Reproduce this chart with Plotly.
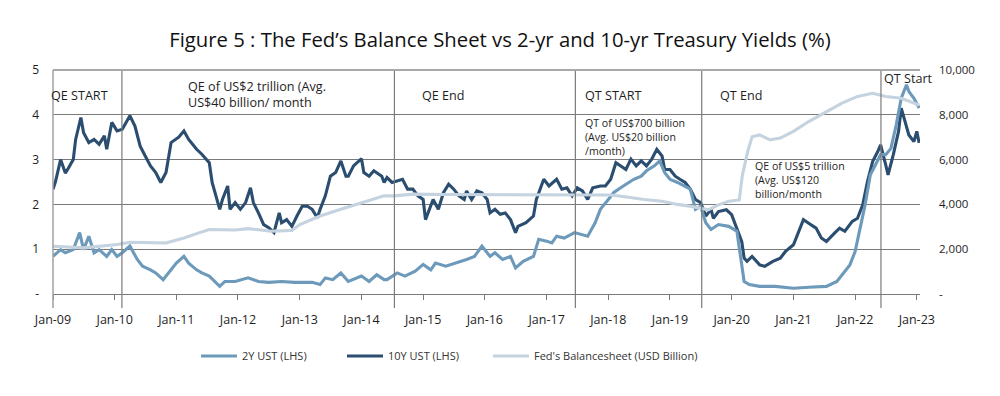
import plotly.graph_objects as go

# ---------------- data ----------------
dates_10y = [
    "2009-01-01", "2009-01-15", "2009-02-15", "2009-03-15", "2009-04-01", "2009-05-01", "2009-05-15",
    "2009-06-15", "2009-07-01", "2009-08-01", "2009-09-01", "2009-10-01", "2009-11-01", "2009-11-15",
    "2009-12-15", "2010-01-15", "2010-02-15", "2010-04-01", "2010-05-01", "2010-06-01", "2010-07-01",
    "2010-08-01", "2010-09-01", "2010-10-01", "2010-11-01", "2010-12-01", "2011-01-15", "2011-02-15",
    "2011-03-15", "2011-05-01", "2011-06-01", "2011-07-15", "2011-08-01", "2011-09-01", "2011-09-15",
    "2011-10-01", "2011-11-01", "2011-11-15", "2011-12-15", "2012-01-15", "2012-02-15", "2012-03-15",
    "2012-04-01", "2012-05-01", "2012-06-01", "2012-07-01", "2012-08-01", "2012-09-01", "2012-09-15",
    "2012-10-15", "2012-11-15", "2012-12-15", "2013-01-15", "2013-02-15", "2013-03-15", "2013-04-15",
    "2013-05-01", "2013-06-01", "2013-07-01", "2013-08-01", "2013-09-01", "2013-10-01", "2013-10-15",
    "2013-11-15", "2014-01-01", "2014-01-15", "2014-02-15", "2014-03-15", "2014-05-01", "2014-05-15",
    "2014-06-01", "2014-07-01", "2014-08-01", "2014-09-01", "2014-10-01", "2014-11-01", "2014-12-01",
    "2015-01-01", "2015-01-15", "2015-02-15", "2015-03-01", "2015-04-01", "2015-05-01", "2015-06-01",
    "2015-07-01", "2015-08-01", "2015-09-01", "2015-09-15", "2015-10-15", "2015-11-15", "2015-12-15",
    "2016-01-15", "2016-02-01", "2016-03-01", "2016-04-01", "2016-05-01", "2016-06-01", "2016-07-01",
    "2016-07-15", "2016-09-01", "2016-10-15", "2016-11-01", "2016-12-15", "2017-01-15", "2017-03-01",
    "2017-04-01", "2017-05-01", "2017-06-01", "2017-07-01", "2017-08-01", "2017-09-01", "2017-10-01",
    "2017-11-15", "2017-12-15", "2018-01-15", "2018-02-15", "2018-03-15", "2018-04-15", "2018-05-15",
    "2018-06-15", "2018-07-15", "2018-08-15", "2018-09-15", "2018-10-15", "2018-11-15", "2018-12-01",
    "2019-01-01", "2019-02-01", "2019-03-01", "2019-04-01", "2019-05-01", "2019-06-01", "2019-07-01",
    "2019-08-01", "2019-09-01", "2019-09-15", "2019-10-15", "2019-12-01", "2020-01-01", "2020-02-01",
    "2020-03-01", "2020-03-15", "2020-04-01", "2020-05-01", "2020-06-15", "2020-07-15", "2020-09-01",
    "2020-10-15", "2020-11-15", "2021-01-01", "2021-02-01", "2021-03-01", "2021-04-01", "2021-05-15",
    "2021-06-15", "2021-07-15", "2021-09-01", "2021-10-01", "2021-11-01", "2021-12-15", "2022-01-15",
    "2022-02-15", "2022-03-15", "2022-04-15", "2022-05-15", "2022-06-01", "2022-07-01", "2022-07-15",
    "2022-08-15", "2022-09-15", "2022-10-01", "2022-11-01", "2022-11-15", "2022-12-15", "2023-01-01",
    "2023-01-15",
]
ust10y = [
    2.34, 2.50, 3.00, 2.70, 2.80, 3.00, 3.45,
    3.94, 3.60, 3.38, 3.45, 3.34, 3.53, 3.23,
    3.83, 3.64, 3.68, 3.98, 3.75, 3.30, 3.08,
    2.86, 2.71, 2.49, 2.71, 3.38, 3.50, 3.64,
    3.45, 3.23, 3.12, 2.93, 2.49, 2.11, 1.89,
    2.11, 2.41, 1.89, 2.04, 1.89, 2.04, 2.37,
    2.04, 1.81, 1.55, 1.48, 1.37, 1.81, 1.59,
    1.66, 1.51, 1.74, 1.96, 1.96, 1.89, 1.70,
    1.89, 2.19, 2.63, 2.71, 2.97, 2.63, 2.63,
    2.86, 3.02, 2.71, 2.63, 2.75, 2.63, 2.49,
    2.60, 2.49, 2.52, 2.56, 2.34, 2.34, 2.19,
    2.11, 1.66, 1.96, 2.11, 1.89, 2.26, 2.45,
    2.34, 2.19, 2.11, 2.30, 2.11, 2.30, 2.26,
    2.11, 1.81, 1.89, 1.78, 1.81, 1.66, 1.37,
    1.51, 1.59, 1.74, 2.11, 2.56, 2.41, 2.56,
    2.34, 2.37, 2.19, 2.37, 2.30, 2.11, 2.37,
    2.41, 2.41, 2.56, 2.93, 2.86, 2.78, 3.01,
    2.86, 2.97, 2.86, 3.01, 3.23, 3.08, 2.78,
    2.78, 2.63, 2.56, 2.49, 2.34, 2.11, 2.04,
    1.74, 1.89, 1.69, 1.84, 1.88, 1.77, 1.47,
    1.17, 0.80, 0.73, 0.84, 0.65, 0.62, 0.73,
    0.80, 0.95, 1.10, 1.40, 1.66, 1.58, 1.47,
    1.25, 1.17, 1.36, 1.47, 1.40, 1.62, 1.69,
    1.99, 2.51, 2.96, 3.18, 3.33, 2.88, 2.66,
    3.11, 3.63, 4.15, 3.77, 3.55, 3.40, 3.63,
    3.37,
]

dates_2y = [
    "2009-01-01", "2009-02-15", "2009-03-15", "2009-05-01", "2009-06-08", "2009-07-01", "2009-08-01",
    "2009-09-01", "2009-10-01", "2009-11-15", "2009-12-15", "2010-01-15", "2010-02-15", "2010-04-01",
    "2010-05-15", "2010-06-15", "2010-08-01", "2010-09-01", "2010-10-15", "2010-11-15", "2011-01-01",
    "2011-02-15", "2011-03-15", "2011-05-01", "2011-06-01", "2011-07-15", "2011-09-01", "2011-09-15",
    "2011-10-15", "2011-12-15", "2012-03-01", "2012-05-01", "2012-07-01", "2012-09-15", "2012-12-01",
    "2013-03-15", "2013-05-01", "2013-06-01", "2013-07-15", "2013-09-01", "2013-10-15", "2014-01-01",
    "2014-02-15", "2014-04-01", "2014-05-15", "2014-06-01", "2014-08-01", "2014-09-15", "2014-11-15",
    "2015-01-01", "2015-02-15", "2015-03-15", "2015-05-15", "2015-07-15", "2015-09-15", "2015-11-01",
    "2015-12-15", "2016-02-01", "2016-03-01", "2016-04-15", "2016-06-01", "2016-07-01", "2016-08-15",
    "2016-10-15", "2016-11-15", "2017-01-01", "2017-02-01", "2017-03-01", "2017-04-15", "2017-06-15",
    "2017-09-01", "2017-10-15", "2017-11-15", "2018-01-01", "2018-02-01", "2018-03-15", "2018-05-01",
    "2018-06-01", "2018-07-15", "2018-08-15", "2018-10-01", "2018-11-01", "2018-12-01", "2019-01-01",
    "2019-02-15", "2019-04-01", "2019-05-01", "2019-06-01", "2019-07-01", "2019-08-01", "2019-09-01",
    "2019-10-15", "2019-12-15", "2020-02-01", "2020-03-01", "2020-03-15", "2020-04-15", "2020-06-15",
    "2020-09-15", "2021-01-01", "2021-04-01", "2021-07-15", "2021-09-15", "2021-10-15", "2021-12-01",
    "2022-01-01", "2022-02-01", "2022-03-01", "2022-04-01", "2022-05-01", "2022-06-01", "2022-07-01",
    "2022-08-01", "2022-09-01", "2022-10-01", "2022-11-01", "2022-11-15", "2022-12-15", "2023-01-15",
]
ust2y = [
    0.84, 0.99, 0.92, 0.99, 1.37, 0.99, 1.29,
    0.92, 0.99, 0.84, 0.99, 0.84, 0.92, 1.07,
    0.77, 0.62, 0.54, 0.47, 0.32, 0.47, 0.69,
    0.84, 0.69, 0.54, 0.47, 0.40, 0.21, 0.17,
    0.28, 0.28, 0.36, 0.28, 0.26, 0.28, 0.26,
    0.26, 0.21, 0.36, 0.32, 0.47, 0.28, 0.40,
    0.28, 0.43, 0.32, 0.32, 0.47, 0.40, 0.51,
    0.66, 0.54, 0.69, 0.62, 0.69, 0.77, 0.84,
    1.07, 0.84, 0.92, 0.77, 0.84, 0.58, 0.73,
    0.84, 1.22, 1.18, 1.14, 1.29, 1.25, 1.37,
    1.29, 1.59, 1.89, 2.11, 2.26, 2.37, 2.49,
    2.56, 2.63, 2.75, 2.86, 2.97, 2.71, 2.56,
    2.49, 2.41, 2.34, 1.89, 1.96, 1.59, 1.44,
    1.55, 1.51, 1.40, 0.65, 0.28, 0.21, 0.17,
    0.17, 0.13, 0.15, 0.17, 0.28, 0.43, 0.65,
    0.95, 1.47, 1.99, 2.66, 2.88, 3.11, 3.11,
    3.25, 3.77, 4.37, 4.67, 4.52, 4.37, 4.15,
]

dates_fed = [
    "2009-01-01", "2009-07-01", "2010-01-15", "2010-04-01", "2010-11-01", "2011-02-15", "2011-05-15",
    "2011-07-15", "2011-12-15", "2012-03-01", "2012-07-15", "2012-11-15", "2013-01-01", "2013-05-01",
    "2013-09-01", "2014-01-01", "2014-05-15", "2014-07-15", "2014-11-01", "2015-05-15", "2015-12-01",
    "2016-06-15", "2017-01-15", "2017-07-01", "2018-01-15", "2018-05-01", "2018-08-01", "2018-11-15",
    "2019-02-15", "2019-05-15", "2019-07-15", "2019-08-15", "2019-10-15", "2019-12-15", "2020-02-15",
    "2020-03-05", "2020-04-05", "2020-05-01", "2020-06-15", "2020-08-15", "2020-10-15", "2021-01-01",
    "2021-04-01", "2021-07-15", "2021-10-15", "2022-01-15", "2022-04-15", "2022-07-01", "2022-10-01",
    "2023-01-15",
]
fed_bs = [
    2130, 2060, 2210, 2310, 2280, 2500, 2730,
    2880, 2860, 2920, 2800, 2840, 3100, 3480,
    3780, 4080, 4380, 4380, 4460, 4440, 4440,
    4440, 4440, 4420, 4420, 4320, 4220, 4140,
    4000, 3900, 3800, 3760, 3980, 4140, 4200,
    5320, 6360, 7020, 7100, 6880, 6960, 7260,
    7700, 8140, 8520, 8820, 8960, 8820, 8740,
    8440,
]

left_ticks = [0, 1, 2, 3, 4, 5]
left_labels = ["-", "1", "2", "3", "4", "5"]
right_ticks = [0, 2000, 4000, 6000, 8000, 10000]
right_labels = ["-", "2,000", "4,000", "6,000", "8,000", "10,000"]

phase_dates = ["2010-02-13", "2014-07-15", "2017-06-20", "2019-07-08", "2022-06-03"]

# ---------------- styling ----------------
C2Y = "#6d9aba"
C10Y = "#2b4e70"
CFED = "#c4d3df"
GRID = "#7a7a7a"
FONT = "Open Sans"
TXT = "#1e1e1e"

# the page body has an 8px margin; the figure is sized to fit inside the window
W, H = 984, 380
PL, PT = 45, 62          # plot area left / top inside the figure
PR_EDGE, PB_EDGE = 912, 286
PLOT_H = PB_EDGE - PT

fig = go.Figure()
fig.add_trace(go.Scatter(x=dates_10y, y=ust10y, name="10Y UST (LHS)", mode="lines",
                         line=dict(color=C10Y, width=3.1), legendrank=2, legendwidth=95))
fig.add_trace(go.Scatter(x=dates_2y, y=ust2y, name="2Y UST (LHS)", mode="lines",
                         line=dict(color=C2Y, width=3.1), legendrank=1, legendwidth=95))
fig.add_trace(go.Scatter(x=dates_fed, y=fed_bs, name="Fed's Balancesheet (USD Billion)", mode="lines",
                         line=dict(color=CFED, width=3.1), yaxis="y2", legendrank=3, legendwidth=170))

below = -14 / PLOT_H
shapes = []
for d in phase_dates:
    shapes.append(dict(type="line", xref="x", yref="paper", x0=d, x1=d, y0=below, y1=1,
                       line=dict(color=GRID, width=1.2)))
shapes.append(dict(type="line", xref="paper", yref="paper", x0=0, x1=0, y0=below, y1=1,
                   line=dict(color="#a0a0a0", width=1.5)))
shapes.append(dict(type="line", xref="paper", yref="paper", x0=0, x1=1, y0=1, y1=1,
                   line=dict(color="#a8a8a8", width=2)))

ann_big = dict(size=12.6, color=TXT, family=FONT)
ann_small = dict(size=10.6, color=TXT, family=FONT)
annotations = [
    dict(x="2011-02-27", y=4.45, text="QE of US$2 trillion (Avg.<br>US$40 billion/ month", font=ann_big),
    dict(x="2014-12-13", y=4.44, text="QE End", font=ann_big),
    dict(x="2017-08-04", y=4.44, text="QT START", font=ann_big),
    dict(x="2019-10-11", y=4.44, text="QT End", font=ann_big),
    dict(x="2022-06-09", y=4.8, text="QT Start", font=ann_big),
    dict(x="2017-08-04", y=3.5, text="QT of US$700 billion<br>(Avg. US$20 billion<br>/month)", font=ann_small),
    dict(x="2020-05-06", y=2.54, text="QE of US$5 trillion<br>(Avg. US$120<br>billion/month", font=ann_small),
]
for a in annotations:
    a.update(xref="x", yref="y", xanchor="left", yanchor="middle", showarrow=False, align="left")
# first label sits just left of the first date, so it is placed on the paper
annotations.append(dict(x=-4 / (PR_EDGE - PL), xref="paper", y=4.44, yref="y", text="QE START",
                        font=ann_big, xanchor="left", yanchor="middle", showarrow=False))

fig.update_layout(
    width=W, height=H,
    margin=dict(l=PL, r=W - PR_EDGE, t=PT, b=H - PB_EDGE, autoexpand=False),
    paper_bgcolor="white", plot_bgcolor="white",
    font=dict(family=FONT, color=TXT, size=12),
    title=dict(text="Figure 5 : The Fed’s Balance Sheet vs 2-yr and 10-yr Treasury Yields (%)",
               x=(500 - 8) / W, xanchor="center", y=1 - 32 / H, yanchor="middle",
               font=dict(family=FONT, size=20.3, color="#111111")),
    showlegend=True,
    legend=dict(orientation="h", x=(196 - 8 - PL) / (PR_EDGE - PL), xanchor="left",
                y=(PB_EDGE - 348) / PLOT_H, yanchor="middle",
                font=dict(size=11, color="#333333", family=FONT), traceorder="normal",
                itemwidth=36),
    xaxis=dict(type="date", range=["2009-01-01", "2023-01-20"], tickformat="%b-%y",
               dtick="M12", tick0="2009-01-01", ticks="outside", ticklen=5, tickcolor=GRID,
               showline=True, linecolor=GRID, linewidth=1, showgrid=False, zeroline=False,
               tickfont=dict(size=12.5, color=TXT), ticklabelstandoff=9, automargin=False),
    yaxis=dict(range=[0, 5], tickvals=left_ticks, ticktext=left_labels, showgrid=True,
               gridcolor=GRID, gridwidth=1, zeroline=False, showline=False, ticks="",
               tickfont=dict(size=12, color=TXT), ticklabelstandoff=13, automargin=False),
    yaxis2=dict(range=[0, 10000], tickvals=right_ticks, ticktext=right_labels, overlaying="y",
                side="right", showgrid=False, zeroline=False, showline=False, ticks="",
                tickfont=dict(size=11.5, color=TXT), ticklabelstandoff=18, automargin=False),
    shapes=shapes,
    annotations=annotations,
)

fig.write_html("out.html")
